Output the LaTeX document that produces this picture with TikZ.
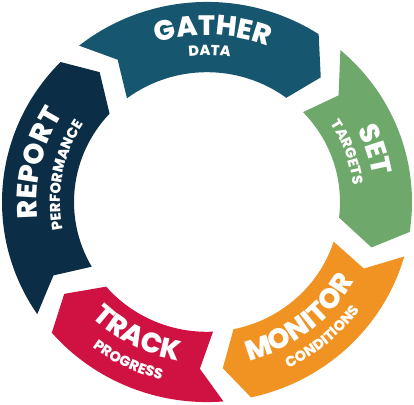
\documentclass[tikz,border=0pt]{standalone}
\usepackage{fontspec}
\setmainfont{Poppins}[BoldFont={Poppins ExtraBold}]
\usetikzlibrary{decorations.text}
\definecolor{gathercol}{HTML}{16566E}
\definecolor{setcol}{HTML}{6EA86B}
\definecolor{monitorcol}{HTML}{F09322}
\definecolor{trackcol}{HTML}{CF1242}
\definecolor{reportcol}{HTML}{0B2D46}
\newcommand\bigtxt{\bfseries\fontsize{28}{30}\selectfont}
\newcommand\smalltxt{\bfseries\fontsize{14.5}{15}\selectfont}
\tikzset{bigword/.style={decorate,decoration={text along path,text align=center,text color=white,text={|\bigtxt|#1}}},smallword/.style={decorate,decoration={text along path,text align=center,text color=white,text={|\smalltxt|#1}}}}
\begin{document}
\begin{tikzpicture}[x=1pt,y=0.976pt]
\useasboundingbox (-207pt,-202pt) rectangle (207pt,202pt);
\fill[gathercol] (128.6:205) arc[start angle=128.6,end angle=57,radius=205] -- (48.3:171) -- (53.4:133) arc[start angle=53.4,end angle=127,radius=133] -- (121.5:171) -- cycle;
\fill[setcol] (49.4:205) arc[start angle=49.4,end angle=-8.6,radius=205] -- (-15.8:171) -- (-6.9:133) arc[start angle=-6.9,end angle=43.8,radius=133] -- (39.7:171) -- cycle;
\fill[monitorcol] (-15.8:205) arc[start angle=-15.8,end angle=-77.6,radius=205] -- (-84.7:171) -- (-78.5:133) arc[start angle=-78.5,end angle=-17.8,radius=133] -- (-23.5:171) -- cycle;
\fill[trackcol] (-85.4:205) arc[start angle=-85.4,end angle=-139.2,radius=205] -- (-146.6:171) -- (-139.3:133) arc[start angle=-139.3,end angle=-87.4,radius=133] -- (-92.4:171) -- cycle;
\fill[reportcol] (-145.9:205) arc[start angle=-145.9,end angle=-224.4,radius=205] -- (-231.1:171) -- (-222.9:133) arc[start angle=-222.9,end angle=-150.1,radius=133] -- (-153.9:171) -- cycle;
\path[bigword={GATHER}] (128:171) arc[start angle=128,end angle=48,radius=171];
\path[smallword={DATA}] (129:150) arc[start angle=129,end angle=49,radius=150];
\path[bigword={SET}] (57.5:168) arc[start angle=57.5,end angle=-22.5,radius=168];
\path[smallword={TARGETS}] (59.7:147) arc[start angle=59.7,end angle=-20.3,radius=147];
\path[bigword={REPORT}] (207:170) arc[start angle=207,end angle=127,radius=170];
\path[smallword={PERFORMANCE}] (209:147) arc[start angle=209,end angle=129,radius=147];
\path[bigword={TRACK}] (-157.4:165) arc[start angle=-157.4,end angle=-77.4,radius=165];
\path[smallword={PROGRESS}] (-156:188) arc[start angle=-156,end angle=-76,radius=188];
\path[bigword={MONITOR}] (-92:168) arc[start angle=-92,end angle=-12,radius=168];
\path[smallword={CONDITIONS}] (-90:189) arc[start angle=-90,end angle=-10,radius=189];
\end{tikzpicture}
\end{document}
